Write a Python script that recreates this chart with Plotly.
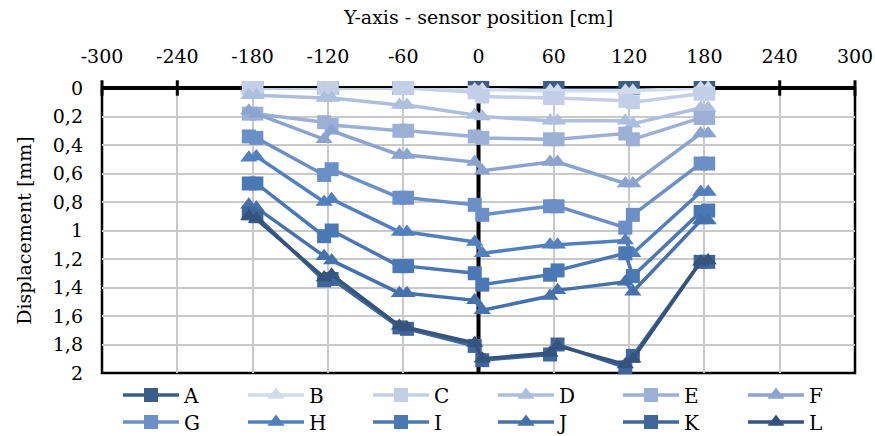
import plotly.graph_objects as go

# Sensor positions along the Y-axis [cm]; each station has a sensor pair
POSITIONS = [-183, -177, -123, -117, -63, -57, -3, 3, 57, 63, 117, 123, 177, 183]

# Measured displacements [mm] for each load stage
A = [0, 0, 0, 0, 0, 0, 0, 0, 0, 0, 0, 0, 0, 0]
B = [0, 0, 0, 0, 0, 0, 0.01, 0.01, 0.02, 0.02, 0.02, 0.02, 0, 0]
C = [0, 0, 0, 0, 0, 0, 0.03, 0.06, 0.07, 0.07, 0.09, 0.1, 0.04, 0.04]
D = [0.05, 0.05, 0.07, 0.07, 0.12, 0.12, 0.19, 0.2, 0.23, 0.23, 0.23, 0.25, 0.14, 0.14]
E = [0.18, 0.18, 0.24, 0.26, 0.3, 0.3, 0.34, 0.35, 0.36, 0.36, 0.32, 0.36, 0.21, 0.21]
F = [0.16, 0.18, 0.36, 0.3, 0.47, 0.47, 0.52, 0.58, 0.52, 0.52, 0.67, 0.67, 0.32, 0.32]
G = [0.34, 0.35, 0.61, 0.57, 0.77, 0.77, 0.82, 0.89, 0.83, 0.83, 0.98, 0.89, 0.53, 0.53]
H = [0.49, 0.48, 0.8, 0.78, 1.01, 1.01, 1.08, 1.16, 1.1, 1.1, 1.07, 1.16, 0.73, 0.73]
I = [0.67, 0.67, 1.04, 1.0, 1.25, 1.25, 1.3, 1.38, 1.31, 1.28, 1.16, 1.32, 0.87, 0.86]
J = [0.82, 0.84, 1.18, 1.21, 1.44, 1.44, 1.49, 1.56, 1.46, 1.42, 1.36, 1.43, 0.93, 0.93]
K = [0.88, 0.9, 1.35, 1.34, 1.68, 1.69, 1.81, 1.91, 1.87, 1.8, 1.96, 1.88, 1.22, 1.22]
L = [0.9, 0.92, 1.33, 1.31, 1.67, 1.68, 1.79, 1.9, 1.86, 1.81, 1.94, 1.9, 1.22, 1.21]

NAMES = ["A", "B", "C", "D", "E", "F", "G", "H", "I", "J", "K", "L"]
VALUES = [A, B, C, D, E, F, G, H, I, J, K, L]
COLORS = ["#3a5d8a", "#d2dbeb", "#c2cfe6", "#adbfde", "#9cb0d6", "#8aa3cf",
          "#6b8fc7", "#5280bf", "#4a78b4", "#4571ad", "#3f669b", "#34547e"]
SYMBOLS = ["square", "triangle-up"] * 6

X_TICKS = [-300, -240, -180, -120, -60, 0, 60, 120, 180, 240, 300]
X_LABELS = ["-300", "-240", "-180", "-120", "-60", "0", "60", "120", "180", "240", "300"]
Y_TICKS = [0, 0.2, 0.4, 0.6, 0.8, 1, 1.2, 1.4, 1.6, 1.8, 2]

FONT = "DejaVu Serif"
SIZE = 19

fig = go.Figure()

# Cross tick marks on the top axis, outside the span covered by sensors
open_ticks = [t for t in X_TICKS if abs(t) > 200]
fig.add_trace(go.Scatter(
    x=open_ticks, y=[0] * len(open_ticks), mode="markers",
    marker=dict(symbol="line-ns-open", size=11, color="black",
                line=dict(color="black", width=3)),
    showlegend=False, hoverinfo="skip", cliponaxis=False,
))

for k, (name, vals, color, sym) in enumerate(zip(NAMES, VALUES, COLORS, SYMBOLS)):
    fig.add_trace(go.Scatter(
        x=POSITIONS, y=vals, name=name, mode="lines+markers",
        line=dict(color=color, width=3.5),
        marker=dict(symbol=sym, size=15 if sym != "square" else 14, color=color),
        cliponaxis=False,
        legend="legend" if k < 6 else "legend2",
    ))

# Plot frame, thick top axis and the axis line through x = 0
fig.add_shape(type="rect", xref="paper", yref="paper", x0=0, x1=1, y0=0, y1=1,
              line=dict(color="black", width=2.5), layer="between")
fig.add_shape(type="line", xref="paper", yref="paper", x0=0, x1=1, y0=1, y1=1,
              line=dict(color="black", width=4), layer="between")
fig.add_shape(type="line", xref="x", yref="y", x0=0, x1=0, y0=0, y1=2,
              line=dict(color="black", width=4), layer="between")

legend_common = dict(
    orientation="h", xref="container", yref="container",
    x=118 / 875, xanchor="left", yanchor="middle",
    entrywidth=54, entrywidthmode="pixels", itemwidth=56,
    font=dict(family=FONT, size=SIZE + 1, color="black"),
    traceorder="normal", bgcolor="rgba(0,0,0,0)",
)

fig.update_layout(
    width=875, height=436,
    margin=dict(l=102, r=20, t=88, b=63, autoexpand=False),
    paper_bgcolor="white", plot_bgcolor="white",
    separators=", ",
    font=dict(family=FONT, size=SIZE, color="black"),
    xaxis=dict(
        side="top", range=[-300, 300], tickmode="array",
        tickvals=X_TICKS, ticktext=X_LABELS,
        showgrid=True, gridcolor="#c9c9c9", gridwidth=1.5,
        zeroline=False, showline=False, ticks="", ticklabelstandoff=20,
        title=dict(text="Y-axis - sensor position [cm]",
                   font=dict(family=FONT, size=SIZE), standoff=15),
        tickfont=dict(family=FONT, size=SIZE),
    ),
    yaxis=dict(
        range=[2, 0], tickmode="array", tickvals=Y_TICKS,
        showgrid=True, gridcolor="#c9c9c9", gridwidth=1.5,
        zeroline=False, showline=False, ticks="", ticklabelstandoff=18,
        title=dict(text="Displacement [mm]", font=dict(family=FONT, size=SIZE), standoff=16),
        tickfont=dict(family=FONT, size=SIZE),
    ),
    legend=dict(legend_common, y=(436 - 395) / 436),
    legend2=dict(legend_common, y=(436 - 422) / 436),
    showlegend=True,
)

fig.write_html("out.html")
